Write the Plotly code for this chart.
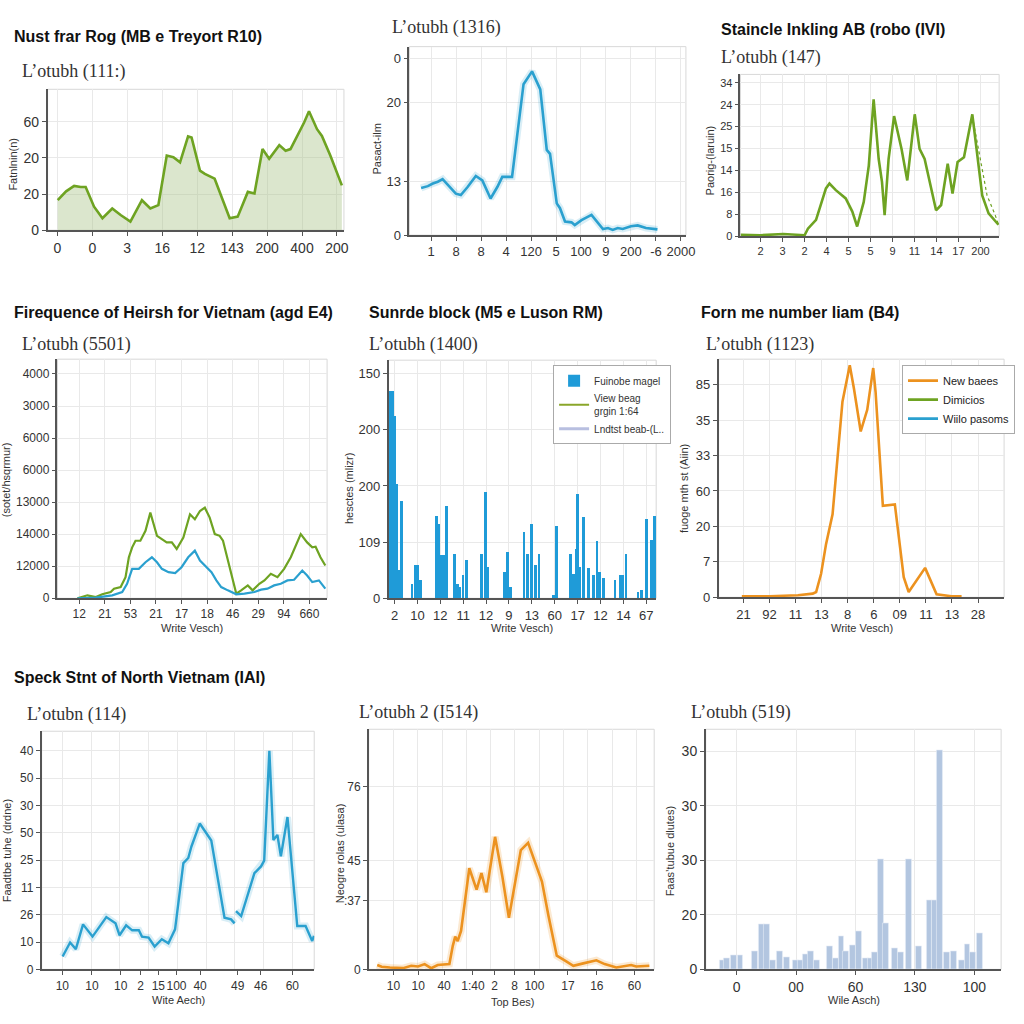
import plotly.graph_objects as go

W = H = 1024

# ---------------- data ----------------
# Panel 1 (green area)
p1_x = [0.01, 0.25, 0.48, 0.67, 0.81, 1.05, 1.29, 1.57, 1.81, 2.09, 2.42, 2.66, 2.89, 3.13, 3.32, 3.51,
        3.74, 3.84, 4.08, 4.22, 4.5, 4.79, 4.93, 5.16, 5.45, 5.64, 5.87, 6.06, 6.35, 6.53, 6.67, 7.06,
        7.2, 7.43, 7.57, 7.81, 8.14]
p1_y = [16.6, 21.5, 24.5, 23.9, 23.9, 13, 6.6, 12, 8.4, 4.8, 16.6, 12, 13.9, 41.3, 40.4, 37.6,
        51.9, 51.3, 33, 31.2, 28.5, 13, 6.6, 7.5, 21.2, 20.3, 44.9, 39.5, 47.1, 44, 44.9, 59.6,
        65.9, 55.9, 52.2, 41.3, 24.8]
p1_xticks = ["0", "0", "3", "16", "12", "143", "200", "400", "200"]
p1_yticks = ["0", "20", "20", "60"]

# Panel 2 (blue line)
p2_x = [-0.40, -0.13, 0.07, 0.27, 0.46, 0.73, 0.99, 1.19, 1.46, 1.79, 2.05, 2.38, 2.65, 2.85, 3.24,
        3.70, 4.04, 4.37, 4.63, 4.76, 5.03, 5.16, 5.36, 5.62, 5.75, 6.02, 6.42, 6.88, 7.08, 7.27,
        7.47, 7.67, 8.00, 8.27, 8.60, 9.06]
p2_y = [10.7, 11.1, 11.7, 12.1, 12.7, 10.9, 9.4, 9.1, 10.9, 13.4, 12.4, 8.3, 10.9, 13.2, 13.2,
        34.2, 37.1, 33.0, 19.3, 18.4, 7.2, 6.1, 3.1, 2.9, 2.3, 3.4, 4.6, 1.4, 1.6, 1.2,
        1.6, 1.4, 2.0, 2.2, 1.6, 1.3]
p2_xticks = ["1", "8", "8", "4", "120", "5", "100", "9", "200", "-6", "2000"]
p2_ytickvals = [0, 12.1, 30.1, 40]
p2_yticks = ["0", "13", "20", "0"]

# Panel 3 (green line)
p3_x = [-0.91, -0.01, 1.03, 2.0, 2.15, 2.52, 2.97, 3.13, 3.42, 3.87, 4.17, 4.39, 4.69, 4.92, 5.14,
        5.37, 5.52, 5.64, 5.82, 6.07, 6.41, 6.67, 7.01, 7.23, 7.46, 7.98, 8.21, 8.51, 8.73, 8.96,
        9.25, 9.63, 10.08, 10.37, 10.82]
p3_y = [0.3, 0.2, 0.5, 0.2, 1.7, 3.7, 10.9, 12.0, 10.5, 8.6, 5.6, 2.2, 7.8, 16.1, 31.2,
        17.6, 12.4, 4.8, 17.6, 27.4, 19.9, 12.7, 27.8, 19.9, 17.6, 5.9, 7.1, 16.5, 9.7, 16.9,
        18.0, 27.8, 9.3, 5.2, 2.6]
p3_dot_x = [9.63, 10.0, 10.3, 10.67, 10.82]
p3_dot_y = [27.4, 17.6, 9.3, 4.8, 2.6]
p3_xticks = ["2", "3", "2", "4", "5", "5", "9", "11", "14", "17", "200"]
p3_yticks = ["0", "8", "16", "14", "15", "25", "24", "34"]

# Panel 4 (green + blue lines)
p4_x_green = [-0.07, 0.32, 0.65, 0.90, 1.23, 1.36, 1.62, 1.81, 1.94, 2.07, 2.20, 2.39, 2.59, 2.78,
              2.91, 3.04, 3.23, 3.42, 3.62, 3.81, 4.07, 4.33, 4.52, 4.72, 4.91, 5.10, 5.30, 5.49,
              5.62, 5.94, 6.14, 6.33, 6.59, 6.78, 7.04, 7.24, 7.49, 7.75, 8.01, 8.27, 8.46, 8.66,
              8.91, 9.11, 9.24, 9.43, 9.62]
p4_y_green = [0, 186, 80, 248, 392, 599, 702, 1321, 2560, 3179, 3591, 3591, 4210, 5346,
              4623, 3900, 3694, 3488, 3488, 3075, 3797, 5243, 4933, 5449, 5655, 5036, 4004, 3900,
              3591, 1527, 289, 495, 805, 495, 908, 1115, 1527, 1321, 1837, 2560, 3282, 4004,
              3488, 3179, 3220, 2560, 2043]
p4_x_blue = [-0.07, 0.65, 1.29, 1.68, 1.87, 2.07, 2.33, 2.59, 2.84, 3.04, 3.23, 3.49, 3.75, 4.00,
             4.26, 4.52, 4.72, 4.97, 5.17, 5.36, 5.55, 5.81, 6.14, 6.46, 6.85, 7.11, 7.36, 7.62,
             7.88, 8.14, 8.40, 8.72, 8.91, 9.11, 9.37, 9.62]
p4_y_blue = [0, 41, 186, 392, 908, 1837, 1837, 2250, 2560, 2250, 1837, 1630, 1569, 1940,
             2560, 2972, 2353, 1940, 1630, 1115, 702, 495, 248, 289, 392, 537, 599, 805,
             908, 1115, 1156, 1734, 1424, 1011, 1115, 599]
p4_xticks = ["12", "21", "53", "21", "17", "18", "46", "29", "94", "660"]
p4_yticks = ["0", "12000", "14000", "13000", "6000", "6000", "3000", "4000"]

# Panel 5 (blue bars)
p5_x = [-0.20, -0.10, -0.01, 0.06, 0.16, 0.30, 0.74, 0.88, 1.0, 1.13, 1.82, 1.89, 2.03, 2.15, 2.25,
        2.61, 2.73, 2.84, 2.97, 3.12, 3.77, 3.95, 4.05, 4.77, 4.92, 5.06, 5.64, 5.79, 5.96, 6.15,
        6.29, 6.94, 7.06, 7.66, 7.81, 7.91, 7.98, 8.07, 8.24, 8.46, 8.67, 8.82, 8.93, 9.10, 9.61,
        9.83, 9.94, 10.09, 10.62, 10.77, 10.98, 11.2, 11.34]
p5_y = [184.1, 184.1, 162, 101.5, 24.8, 86.7, 13.0, 29.2, 29.2, 15.9, 73.5, 66.1, 38.1, 38.1, 82.3,
        39.6, 13.0, 10.0, 20.4, 34.2, 39.6, 94.1, 27.7, 23.3, 41.0, 10.0, 58.7, 39.6, 66.1, 29.2,
        39.6, 2.7, 64.6, 39.6, 21.9, 44.0, 92.7, 27.7, 72.0, 27.2, 20.4, 51.3, 23.3, 18.3, 15.9,
        20.4, 20.4, 39.6, 5.6, 7.1, 70.5, 51.9, 73.5]
p5_xticks = ["2", "10", "12", "11", "12", "9", "13", "60", "17", "12", "14", "67"]
p5_yticks = ["0", "109", "200", "200", "150"]
p5_legend = ["Fuinobe magel", "View beag<br>grgin 1:64", "Lndtst beab-(L.."]

# Panel 6 (orange line)
p6_x = [-0.06, 1.01, 2.09, 2.66, 2.79, 2.98, 3.17, 3.42, 3.80, 4.08, 4.24, 4.50, 4.75, 4.98, 5.07,
        5.35, 5.81, 6.15, 6.34, 6.97, 7.41, 7.98, 8.37]
p6_y = [0.28, 0.28, 0.56, 1.03, 1.49, 6.63, 15.0, 23.4, 55.2, 65.5, 58.9, 46.8, 52.9, 64.7, 58.0,
        25.8, 26.2, 5.7, 1.49, 8.3, 0.84, 0.28, 0.28]
p6_xticks = ["21", "92", "11", "13", "8", "6", "09", "11", "13", "28"]
p6_yticks = ["0", "7", "20", "60", "33", "35", "85"]
p6_legend = ["New baees", "Dimicios", "Wiilo pasoms"]

# Panel 7 (blue line)
p7_x = [0.01, 0.27, 0.47, 0.72, 1.05, 1.28, 1.53, 1.85, 1.99, 2.22, 2.43, 2.66, 2.77, 3.0, 3.21,
        3.46, 3.69, 3.92, 4.09, 4.21, 4.38, 4.49, 4.78, 4.96, 5.18, 5.64, 5.87, 5.99, None, 6.04,
        6.22, 6.68, 6.91, 7.02, 7.2, 7.34, 7.48, 7.6, 7.83, 8.17, 8.46, 8.69, 8.75]
p7_y = [2.36, 4.91, 3.70, 8.24, 6.0, 7.64, 9.58, 8.42, 6.24, 8.06, 7.15, 7.15, 6.0, 5.82, 4.18,
        5.52, 4.79, 7.33, 14.0, 19.45, 20.4, 22.5, 26.7, 25.2, 23.6, 9.45, 9.15, 8.42, None, 10.67,
        9.76, 17.6, 18.85, 19.9, 40.0, 23.7, 24.6, 20.7, 27.9, 7.94, 7.94, 5.21, 6.12]
p7_xtickvals = [0, 1.03, 2.03, 2.72, 3.34, 3.97, 4.79, 6.10, 6.90, 8.0]
p7_xticks = ["10", "10", "10", "2", "15", "100", "40", "49", "46", "60"]
p7_yticks = ["0", "10", "26", "11", "25", "50", "30", "50", "40"]

# Panel 8 (orange line)
p8_x = [-0.67, -0.49, -0.15, 0.39, 0.73, 1.01, 1.28, 1.55, 1.82, 2.3, 2.44, 2.54, 2.64, 2.78, 3.12,
        3.42, 3.62, 3.82, 4.18, 4.48, 4.75, 4.95, 5.24, 5.54, 5.84, 6.11, 6.38, 6.72, 7.06, 7.4,
        7.81, 8.35, 8.69, 9.17, 9.78, 9.99, 10.53]
p8_y = [1.8, 1.1, 0.8, 0.5, 1.5, 1.2, 2.2, 0.5, 1.8, 2.2, 9.8, 13.6, 11.8, 16.0, 42.1,
        33.2, 40.1, 32.1, 55.2, 38.7, 21.5, 33.2, 49.7, 52.7, 44.2, 36.6, 22.2, 5.7, 3.6, 1.5,
        2.5, 3.8, 2.2, 0.8, 1.8, 1.2, 1.5]
p8_xtickvals = [0, 1.02, 2.08, 3.27, 4.16, 4.98, 5.8, 7.18, 8.37, 9.92]
p8_xticks = ["10", "10", "40", "1:40", "2", "8", "100", "17", "16", "60"]
p8_ytickvals = [0, 28.5, 45.4, 76]
p8_yticks = ["0", ":37", "45", "76"]

# Panel 9 (light bars)
p9_x = [-0.24, -0.16, -0.05, 0.06, 0.31, 0.42, 0.51, 0.6, 0.73, 0.84, 0.99, 1.08, 1.16, 1.24, 1.34,
        1.56, 1.67, 1.76, 1.84, 1.95, 2.06, 2.17, 2.26, 2.32, 2.42, 2.51, 2.66, 2.76, 2.89, 3.06,
        3.24, 3.33, 3.42, 3.53, 3.65, 3.78, 3.88, 3.98, 4.09]
p9_y = [1.58, 2.0, 2.6, 2.6, 3.39, 8.24, 8.24, 1.58, 3.39, 2.3, 1.7, 1.7, 2.8, 3.39, 1.7,
        4.3, 2.1, 6.0, 3.39, 4.5, 7.0, 2.0, 2.0, 3.2, 20.1, 8.4, 3.9, 3.2, 20.1, 4.2,
        12.7, 12.7, 40.1, 3.1, 3.3, 1.58, 4.6, 3.1, 6.6]
p9_xticks = ["0", "00", "60", "130", "100"]
p9_yticks = ["0", "20", "30", "30", "30"]

# ---------------- styling ----------------
GREEN = "#6ea322"
BLUE = "#2aa0cf"
ORANGE = "#ec921f"
BAR_BLUE = "#1f9bd8"
BAR_LIGHT = "#b3c6e0"
SANS = "Liberation Sans, Arial, sans-serif"
SERIF = "Liberation Serif, Times New Roman, serif"

fig = go.Figure()


def names(i):
    return ("x" if i == 1 else f"x{i}", "y" if i == 1 else f"y{i}")


# panel rects: left, top, right, bottom (layout positions)
rects = {
    1: (48, 90, 347, 232), 2: (413, 47, 692, 237), 3: (747, 75, 1008, 238),
    4: (58, 362, 330, 603), 5: (392, 363, 662, 603), 6: (725, 362, 1013, 602),
    7: (42, 737, 317, 977), 8: (372, 735, 660, 977), 9: (712, 735, 1010, 977),
}

axcfg = {
    1: dict(xr=[-0.28, 8.2], xtv=list(range(9)), xtt=p1_xticks, yr=[0, 78], ytv=[0, 20, 40, 60], ytt=p1_yticks, fs=14),
    2: dict(xr=[-0.87, 10.2], xtv=list(range(11)), xtt=p2_xticks, yr=[0, 42.7], ytv=p2_ytickvals, ytt=p2_yticks, fs=13),
    3: dict(xr=[-0.92, 10.85], xtv=list(range(11)), xtt=p3_xticks, yr=[0, 36.9], ytv=list(range(0, 36, 5)), ytt=p3_yticks, fs=11),
    4: dict(xr=[-0.85, 9.69], xtv=list(range(10)), xtt=p4_xticks, yr=[0, 14923], ytv=list(range(0, 14001, 2000)), ytt=p4_yticks, fs=12),
    5: dict(xr=[-0.26, 11.43], xtv=list(range(12)), xtt=p5_xticks, yr=[0, 212], ytv=[0, 50, 100, 150, 200], ytt=p5_yticks, fs=13),
    6: dict(xr=[-0.95, 10.0], xtv=list(range(10)), xtt=p6_xticks, yr=[0, 67.2], ytv=list(range(0, 61, 10)), ytt=p6_yticks, fs=13),
    7: dict(xr=[-0.72, 8.76], xtv=p7_xtickvals, xtt=p7_xticks, yr=[0, 43.6], ytv=list(range(0, 41, 5)), ytt=p7_yticks, fs=12, minorx=True),
    8: dict(xr=[-1.02, 10.73], xtv=p8_xtickvals, xtt=p8_xticks, yr=[0, 100], ytv=p8_ytickvals, ytt=p8_yticks, fs=12, minorx=True),
    9: dict(xr=[-0.52, 4.45], xtv=list(range(5)), xtt=p9_xticks, yr=[0, 44], ytv=[0, 10, 20, 30, 40], ytt=p9_yticks, fs=14),
}

layout_axes = {}
shapes = []
for i, (l, t, r, b) in rects.items():
    c = axcfg[i]
    xn, yn = names(i)
    xk = "xaxis" if i == 1 else f"xaxis{i}"
    yk = "yaxis" if i == 1 else f"yaxis{i}"
    tf = dict(family=SANS, size=c["fs"], color="#333")
    xa = dict(domain=[l / W, r / W], range=c["xr"], tickmode="array", tickvals=c["xtv"], ticktext=c["xtt"],
              anchor=yn, showline=True, linecolor="#555", linewidth=1.5, ticks="outside", ticklen=4,
              tickcolor="#555", showgrid=True, gridcolor="#e9e9e9", gridwidth=1, zeroline=False,
              tickfont=tf, tickangle=0, fixedrange=True)
    if c.get("minorx"):
        xa["showgrid"] = False
        xa["minor"] = dict(tick0=0, dtick=1, showgrid=True, gridcolor="#e9e9e9", ticks="")
    ya = dict(domain=[1 - b / H, 1 - t / H], range=c["yr"], tickmode="array", tickvals=c["ytv"], ticktext=c["ytt"],
              anchor=xn, showline=True, linecolor="#555", linewidth=1.5, ticks="outside", ticklen=4,
              tickcolor="#555", showgrid=True, gridcolor="#e9e9e9", gridwidth=1, zeroline=False,
              tickfont=tf, tickangle=0, fixedrange=True)
    layout_axes[xk] = xa
    layout_axes[yk] = ya
    shapes.append(dict(type="rect", xref=f"{xn} domain", yref=f"{yn} domain", x0=0, x1=1, y0=0, y1=1,
                       line=dict(color="#d8d8d8", width=1), layer="below"))

# ---------------- traces ----------------
# Panel 1
fig.add_trace(go.Scatter(x=p1_x, y=p1_y, mode="lines", fill="tozeroy", fillcolor="rgba(170,195,135,0.42)",
                         line=dict(color=GREEN, width=2.6), xaxis="x", yaxis="y", showlegend=False))
# Panel 2
fig.add_trace(go.Scatter(x=p2_x, y=p2_y, mode="lines", line=dict(color="rgba(42,160,207,0.18)", width=7),
                         xaxis="x2", yaxis="y2", showlegend=False, hoverinfo="skip"))
fig.add_trace(go.Scatter(x=p2_x, y=p2_y, mode="lines", line=dict(color=BLUE, width=2.6),
                         xaxis="x2", yaxis="y2", showlegend=False))
# Panel 3
fig.add_trace(go.Scatter(x=p3_dot_x, y=p3_dot_y, mode="lines", line=dict(color=GREEN, width=1.2, dash="dot"),
                         xaxis="x3", yaxis="y3", showlegend=False))
fig.add_trace(go.Scatter(x=p3_x, y=p3_y, mode="lines", line=dict(color=GREEN, width=2.6),
                         xaxis="x3", yaxis="y3", showlegend=False))
# Panel 4
fig.add_trace(go.Scatter(x=p4_x_green, y=p4_y_green, mode="lines", line=dict(color=GREEN, width=2.2),
                         xaxis="x4", yaxis="y4", showlegend=False))
fig.add_trace(go.Scatter(x=p4_x_blue, y=p4_y_blue, mode="lines", line=dict(color=BLUE, width=2.2),
                         xaxis="x4", yaxis="y4", showlegend=False))
# Panel 5
fig.add_trace(go.Bar(x=p5_x, y=p5_y, width=0.12, marker=dict(color=BAR_BLUE, line=dict(width=0)),
                     xaxis="x5", yaxis="y5", name=p5_legend[0], legend="legend", showlegend=True))
fig.add_trace(go.Scatter(x=[None], y=[None], mode="lines", line=dict(color="#8aa62a", width=2),
                         xaxis="x5", yaxis="y5", name=p5_legend[1], legend="legend", showlegend=True))
fig.add_trace(go.Scatter(x=[None], y=[None], mode="lines", line=dict(color="#b8bfe0", width=3),
                         xaxis="x5", yaxis="y5", name=p5_legend[2], legend="legend", showlegend=True))
# Panel 6
fig.add_trace(go.Scatter(x=p6_x, y=p6_y, mode="lines", line=dict(color=ORANGE, width=2.6),
                         xaxis="x6", yaxis="y6", name=p6_legend[0], legend="legend2", showlegend=True))
fig.add_trace(go.Scatter(x=[None], y=[None], mode="lines", line=dict(color=GREEN, width=2.6),
                         xaxis="x6", yaxis="y6", name=p6_legend[1], legend="legend2", showlegend=True))
fig.add_trace(go.Scatter(x=[None], y=[None], mode="lines", line=dict(color=BLUE, width=2.6),
                         xaxis="x6", yaxis="y6", name=p6_legend[2], legend="legend2", showlegend=True))
# Panel 7
fig.add_trace(go.Scatter(x=p7_x, y=p7_y, mode="lines", line=dict(color="rgba(42,160,207,0.18)", width=7),
                         xaxis="x7", yaxis="y7", showlegend=False, hoverinfo="skip"))
fig.add_trace(go.Scatter(x=p7_x, y=p7_y, mode="lines", line=dict(color=BLUE, width=2.4),
                         xaxis="x7", yaxis="y7", showlegend=False))
# Panel 8
fig.add_trace(go.Scatter(x=p8_x, y=p8_y, mode="lines", line=dict(color="rgba(236,146,31,0.2)", width=7),
                         xaxis="x8", yaxis="y8", showlegend=False, hoverinfo="skip"))
fig.add_trace(go.Scatter(x=p8_x, y=p8_y, mode="lines", line=dict(color=ORANGE, width=2.6),
                         xaxis="x8", yaxis="y8", showlegend=False))
# Panel 9
fig.add_trace(go.Bar(x=p9_x, y=p9_y, width=0.1, marker=dict(color=BAR_LIGHT, line=dict(width=0.6, color="#e8eef7")),
                     xaxis="x9", yaxis="y9", showlegend=False))

# ---------------- texts ----------------
titles = [
    ("Nust frar Rog (MB e Treyort R10)", 12, 37),
    ("Staincle Inkling AB (robo (IVI)", 725, 30),
    ("Firequence of Heirsh for Vietnam (agd E4)", 12, 315),
    ("Sunrde block (M5 e Luson RM)", 370, 315),
    ("Forn me number liam (B4)", 705, 315),
    ("Speck Stnt of North Vietnam (IAI)", 12, 683),
]
subtitles = [
    ("L\u2019otubh (111:)", 20, 72),
    ("L\u2019otubh (1316)", 393, 28),
    ("L\u2019otubh (147)", 725, 58),
    ("L\u2019otubh (5501)", 20, 347),
    ("L\u2019otubh (1400)", 370, 347),
    ("L\u2019otubh (1123)", 710, 347),
    ("L\u2019otubn (114)", 25, 720),
    ("L\u2019otubh 2 (I514)", 360, 718),
    ("L\u2019otubh (519)", 695, 718),
]
ytitles = [
    ("Fatnlnin(n)", 13, 165),
    ("Pasact-ilm", 380, 150),
    ("Paorig-(laruin)", 716, 162),
    ("(sotet/hsqrmur)", 6, 483),
    ("hesctes (mlizr)", 352, 492),
    ("fuoge mth st (Aiin)", 690, 492),
    ("Faadtbe tuhe (drdne)", 7, 857),
    ("Neogre rolas (ulasa)", 343, 860),
    ("Faas\u2019tubue dlutes)", 676, 858),
]
xtitles = [
    ("Write Vesch)", 194, 633),
    ("Write Vesch)", 527, 633),
    ("Write Vesch)", 870, 633),
    ("Wite Aech)", 180, 1008),
    ("Top Bes)", 517, 1010),
    ("Wile Asch)", 862, 1008),
]

ann = []
for txt, x, y in titles:
    ann.append(dict(text=txt, x=x / W, y=1 - y / H, xref="paper", yref="paper", xanchor="left", yanchor="middle",
                    showarrow=False, font=dict(family=SANS, size=16, color="#111", weight="bold")))
for txt, x, y in subtitles:
    ann.append(dict(text=txt, x=x / W, y=1 - y / H, xref="paper", yref="paper", xanchor="left", yanchor="middle",
                    showarrow=False, font=dict(family=SERIF, size=18, color="#333")))
for txt, x, y in ytitles:
    ann.append(dict(text=txt, x=x / W, y=1 - y / H, xref="paper", yref="paper", xanchor="center", yanchor="middle",
                    textangle=-90, showarrow=False, font=dict(family=SANS, size=11, color="#333")))
for txt, x, y in xtitles:
    ann.append(dict(text=txt, x=x / W, y=1 - y / H, xref="paper", yref="paper", xanchor="center", yanchor="middle",
                    showarrow=False, font=dict(family=SANS, size=11, color="#333")))

fig.update_layout(
    width=W, height=H, autosize=False,
    margin=dict(l=0, r=0, t=0, b=0),
    paper_bgcolor="white", plot_bgcolor="white",
    annotations=ann, shapes=shapes,
    barmode="overlay", bargap=0,
    legend=dict(x=558 / W, y=1 - 368 / H, xanchor="left", yanchor="top", bgcolor="white",
                bordercolor="#aaa", borderwidth=1, font=dict(family=SANS, size=10, color="#333"),
                itemwidth=30, tracegroupgap=2),
    legend2=dict(x=910 / W, y=1 - 368 / H, xanchor="left", yanchor="top", bgcolor="white",
                 bordercolor="#aaa", borderwidth=1, font=dict(family=SANS, size=11, color="#222"),
                 itemwidth=30),
    **layout_axes,
)

fig.write_html("out.html")
